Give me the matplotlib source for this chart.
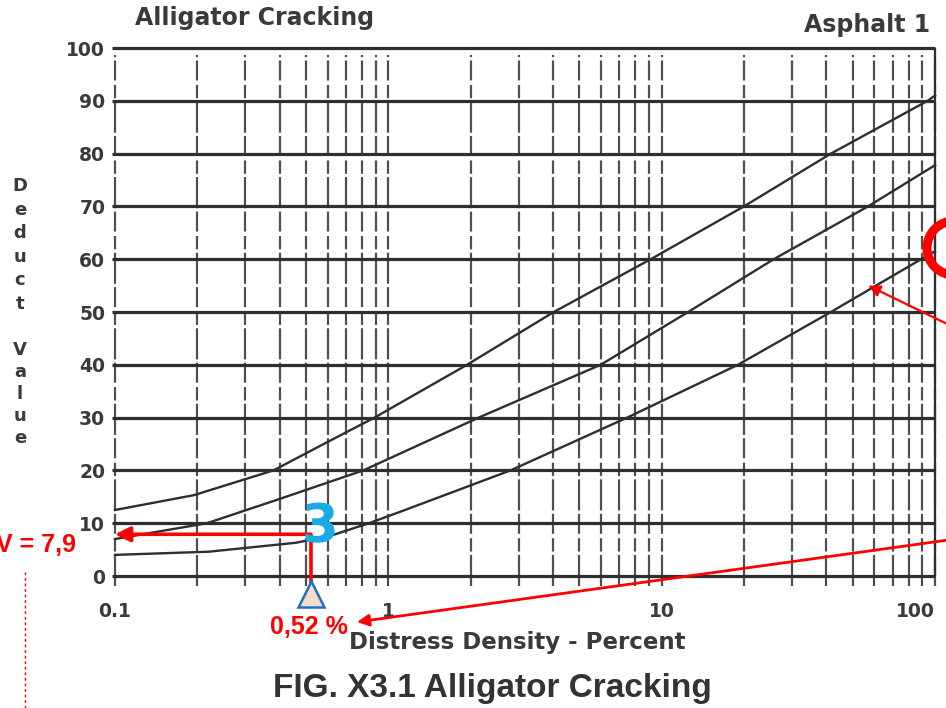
#!/usr/bin/env python3
"""Alligator cracking deduct curves (asphalt) with a worked reading."""

import matplotlib
matplotlib.use("Agg")
import matplotlib.pyplot as plt
from matplotlib.lines import Line2D
from matplotlib.patches import Circle, FancyArrowPatch
from matplotlib.ticker import NullLocator


# deduct curves: density in percent, deduct value
DENSITY_HIGH = [0.1, 0.194, 0.38, 0.58, 0.89, 1.94, 4.03, 9.12, 20, 41.6, 94, 100]
DEDUCT_HIGH = [12.5, 15.3, 20, 25, 30, 40, 50, 60, 70, 80, 90, 91]

DENSITY_MEDIUM = [0.1, 0.217, 0.39, 0.81, 2.14, 5.98, 12.5, 25.7, 56.9, 100]
DEDUCT_MEDIUM = [7, 10, 14.4, 20, 30, 40, 50, 60, 70, 77.8]

DENSITY_LOW = [0.1, 0.22, 0.46, 0.63, 0.85, 1.11, 2.8, 7.48, 19, 41.6, 89, 100]
DEDUCT_LOW = [4, 4.6, 6.3, 7.8, 10, 12.2, 20, 30, 40, 50, 60, 61.5]

# worked example
DENSITY_READ = 0.52
DEDUCT_READ = 7.9
SEVERITY_LABEL = "3"

X_TICKS = [0.1, 1, 10, 100]
X_TICK_LABELS = ["0.1", "1", "10", "100"]
Y_TICKS = list(range(0, 101, 10))

INK = "#2e2e2e"
RED = "#ff0000"
SCAN_FONT = "DejaVu Sans"
NOTE_FONT = "Liberation Sans"

W, H = 946, 708


def fx(px):
    return px / W


def fy(py):
    return 1 - py / H


fig = plt.figure(figsize=(W / 100, H / 100), dpi=100)
ax = fig.add_axes([fx(115), fy(576), fx(820), 528 / H])
ax.set_xscale("log")
ax.set_xlim(0.1, 100)
ax.set_ylim(0, 100)
for spine in ax.spines.values():
    spine.set_visible(False)

# log grid, broken up like the printed sheet
grid_x = [k * 10.0 ** d for d in (-1, 0, 1) for k in range(1, 10)] + [100]
ax.vlines(grid_x, -1.8, 98.6, colors="#4f4f4f", linewidth=1.6,
          linestyles=[(0, (14, 1.5, 6, 2, 9, 1.5))], clip_on=False, zorder=1)
ax.vlines([100], 0, 100, colors=INK, linewidth=1.6, clip_on=False, zorder=1)
ax.hlines(Y_TICKS, 0.0975, 100, colors=INK, linewidth=2.3, clip_on=False, zorder=2)

for dens, ded in ((DENSITY_HIGH, DEDUCT_HIGH),
                  (DENSITY_MEDIUM, DEDUCT_MEDIUM),
                  (DENSITY_LOW, DEDUCT_LOW)):
    ax.plot(dens, ded, color=INK, linewidth=1.7, zorder=3, clip_on=False)

ax.set_xticks(X_TICKS, labels=X_TICK_LABELS)
ax.xaxis.set_minor_locator(NullLocator())
ax.set_yticks(Y_TICKS)
ax.tick_params(axis="both", length=0, labelsize=13.5, labelcolor="#3a3a3a")
ax.tick_params(axis="x", pad=19)
ax.tick_params(axis="y", pad=7)
for lab in ax.get_xticklabels() + ax.get_yticklabels():
    lab.set_fontfamily(SCAN_FONT)
    lab.set_fontweight("bold")
ax.get_xticklabels()[-1].set_horizontalalignment("right")

text_kw = dict(family=SCAN_FONT, fontweight="bold", color="#3a3a3a")
fig.text(fx(135), fy(18), "Alligator Cracking", ha="left", va="center",
         fontsize=17, **text_kw)
fig.text(fx(930), fy(25), "Asphalt 1", ha="right", va="center",
         fontsize=17, **text_kw)
fig.text(fx(517), fy(642), "Distress Density - Percent", ha="center",
         va="center", fontsize=16.5, **text_kw)
fig.text(fx(20), fy(245), "D\ne\nd\nu\nc\nt", ha="center", va="center",
         fontsize=13, linespacing=1.4, **text_kw)
fig.text(fx(20), fy(394), "V\na\nl\nu\ne", ha="center", va="center",
         fontsize=13, linespacing=1.3, **text_kw)
fig.text(fx(492), fy(688), "FIG. X3.1 Alligator Cracking", ha="center",
         va="center", fontsize=24, family="Liberation Sans",
         fontweight="bold", color="#333333")

# reading: density -> deduct value
ax.plot([DENSITY_READ, DENSITY_READ], [-1.3, DEDUCT_READ], color=RED,
        linewidth=2.6, clip_on=False, zorder=5, solid_capstyle="butt")
ax.annotate("", xy=(0.1, DEDUCT_READ), xytext=(DENSITY_READ, DEDUCT_READ),
            arrowprops=dict(arrowstyle="-|>,head_length=0.9,head_width=0.45",
                            color=RED, lw=2.6, shrinkA=0, shrinkB=0),
            annotation_clip=False, zorder=5)
ax.plot([DENSITY_READ], [-3.5], marker="^", markersize=19,
        markerfacecolor="#f7dccb", markeredgecolor="#1f6fc4",
        markeredgewidth=1.8, clip_on=False, zorder=6)
ax.text(0.56, 9.3, SEVERITY_LABEL, ha="center", va="center", fontsize=38,
        family="DejaVu Sans", fontweight="bold", color="#19abe6", zorder=6)

fig.text(fx(76), fy(545), "DV = {}".format(str(DEDUCT_READ).replace(".", ",")),
         ha="right", va="center", fontsize=18, family=NOTE_FONT,
         fontweight="bold", color=RED)
fig.text(fx(270), fy(627), "{} %".format(str(DENSITY_READ).replace(".", ",")),
         ha="left", va="center", fontsize=18, family=NOTE_FONT,
         fontweight="bold", color=RED)

# callouts coming in from the right margin
fig.add_artist(FancyArrowPatch(
    posA=(1.01, fy(539)), posB=(fx(357), fy(622)), transform=fig.transFigure,
    arrowstyle="-|>,head_length=7,head_width=3.5", color=RED, lw=2,
    shrinkA=0, shrinkB=0))
ax.annotate("", xy=(57, 55), xytext=(1.01, fy(328)), textcoords="figure fraction",
            arrowprops=dict(arrowstyle="-|>,head_length=0.7,head_width=0.35",
                            color=RED, lw=1.6, shrinkA=0, shrinkB=0),
            annotation_clip=False, zorder=5)
fig.add_artist(Circle((9.54, (H - 248) / 100), 0.27, transform=fig.dpi_scale_trans,
                      fill=False, edgecolor=RED, linewidth=6.5))
fig.add_artist(Line2D([fx(25), fx(25)], [0, fy(572)], transform=fig.transFigure,
                      color=RED, linewidth=1, linestyle=(0, (2, 2))))

fig.savefig("out.png", dpi=100)
